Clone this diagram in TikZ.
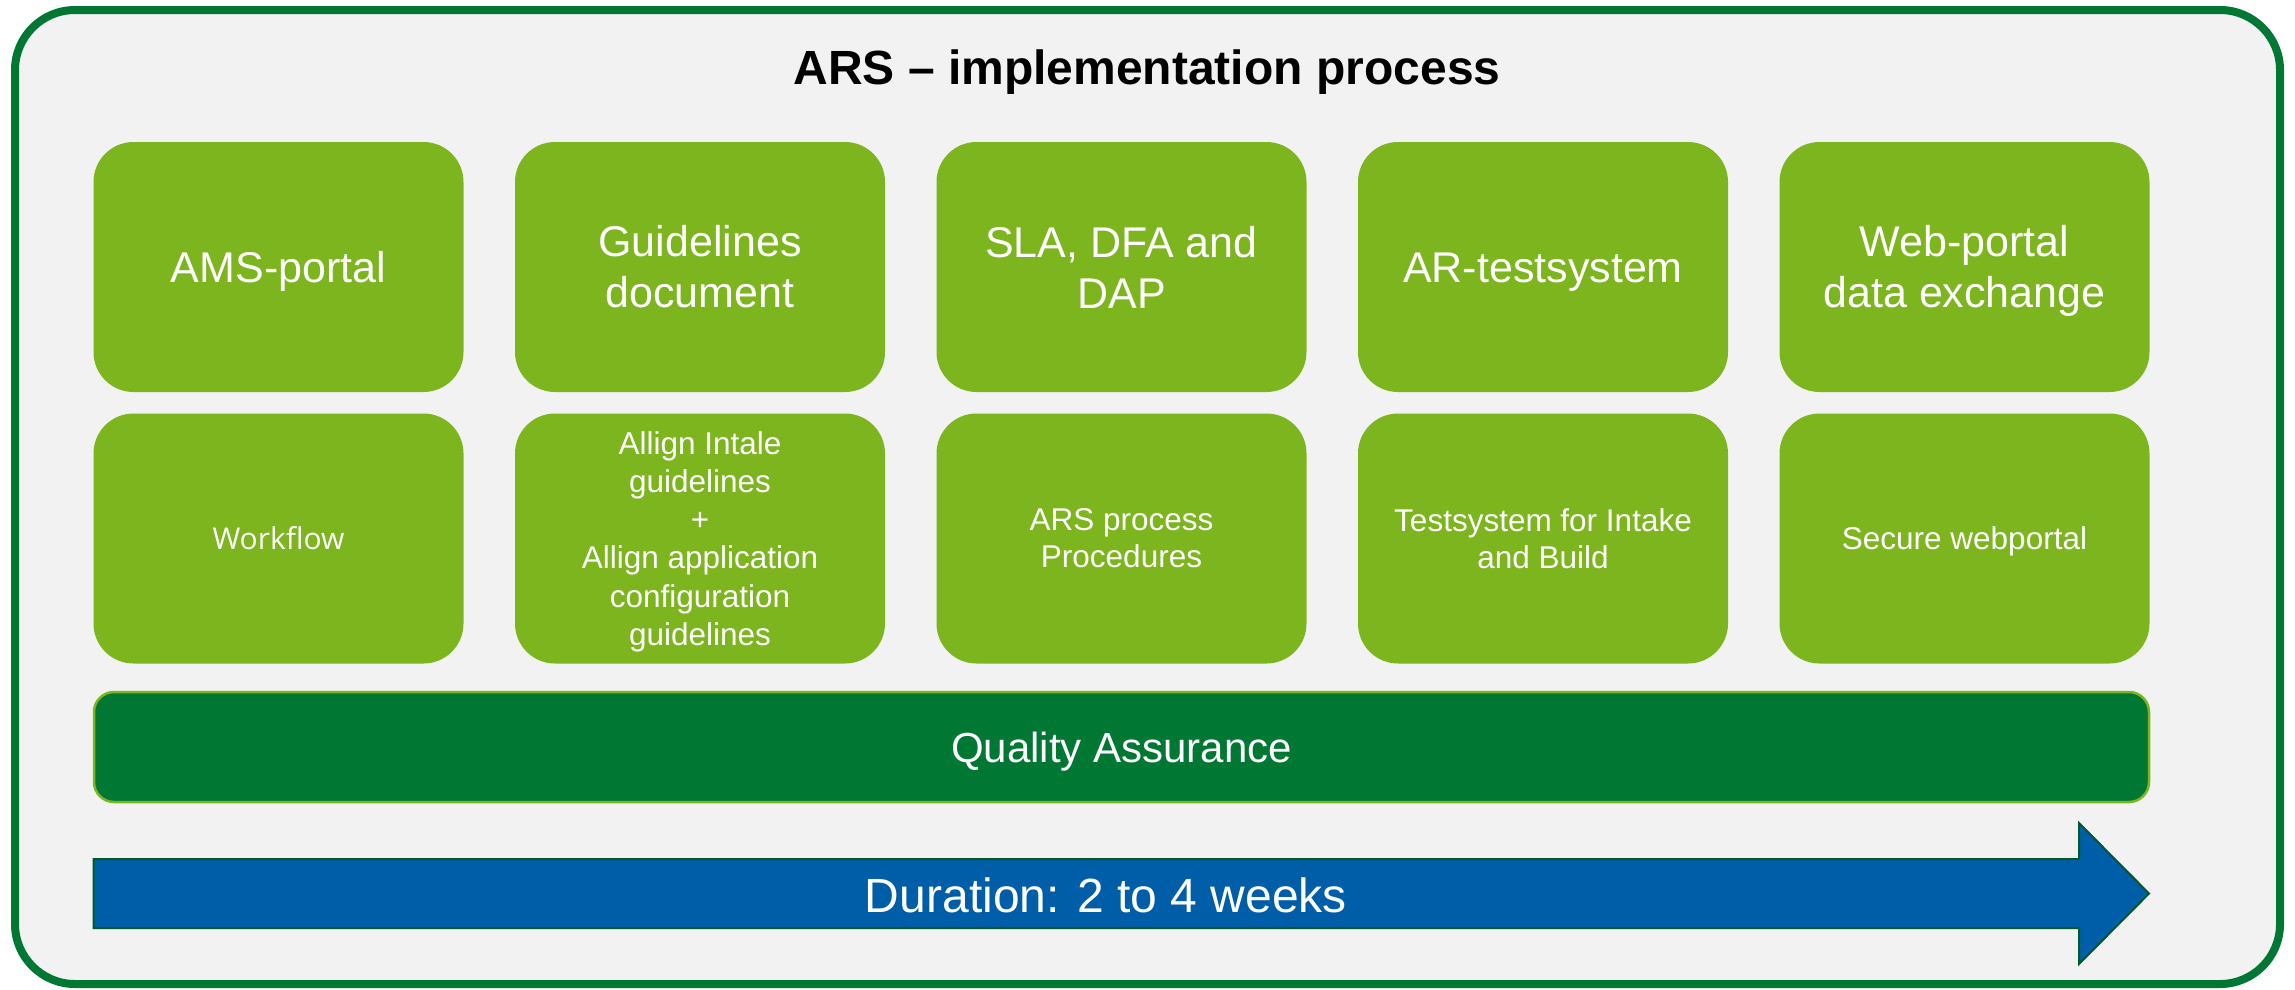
\documentclass[tikz,border=0pt]{standalone}
\usepackage{fontspec}
\setmainfont{Liberation Sans}
\newfontfamily\segoe{Open Sans}
\definecolor{bggray}{RGB}{242,242,242}
\definecolor{framegreen}{RGB}{0,120,52}
\definecolor{tilegreen}{RGB}{124,181,30}
\definecolor{qagreen}{RGB}{0,120,52}
\definecolor{arrowblue}{RGB}{0,94,168}
\definecolor{arrowedge}{RGB}{0,90,40}
\tikzset{
  frame/.style={draw=framegreen, fill=bggray, line width=8pt, rounded corners=60pt},
  tile/.style={fill=tilegreen, rounded corners=40pt, minimum width=370pt, minimum height=250pt,
    inner sep=0pt, align=center, text=white},
  toptile/.style={tile, font=\fontsize{43}{51}\selectfont},
  subtile/.style={tile, font=\fontsize{31.5}{37}\selectfont},
  oneline/.style={text height=#1, text depth=0pt},
  qabar/.style={fill=qagreen, draw=tilegreen, line width=2.5pt, rounded corners=20pt,
    minimum width=2055pt, minimum height=110pt, inner sep=0pt, text=white,
    font=\fontsize{42}{50}\selectfont},
  durarrow/.style={fill=arrowblue, draw=arrowedge, line width=2pt},
  durtext/.style={text=white, font=\fontsize{48}{56}\selectfont, inner sep=0pt},
  titletext/.style={font=\bfseries\fontsize{48}{56}\selectfont, inner sep=0pt}
}
\begin{document}
\begin{tikzpicture}[x=1pt,y=-1pt]
\useasboundingbox (0,0) rectangle (2295,989);
\draw[frame] (15,10) rectangle (2280,984);
\node[titletext, oneline=34.4pt] (title) at (1147,67) {ARS – implementation process};
% top row
\node[toptile, oneline=30.8pt] (t1) at (278.5,267) {AMS-portal};
\node[toptile] (t2) at (700,267) {Guidelines\\document};
\node[toptile] (t3) at (1121.5,267) {SLA, DFA and\\DAP};
\node[toptile, oneline=30.8pt] (t4) at (1543,267) {AR-testsystem};
\node[toptile] (t5) at (1964.5,267) {\rule{0pt}{39.8pt}Web-portal\\data exchange};
% second row
\node[subtile, font=\segoe\fontsize{30}{37}\selectfont, oneline=21.4pt] (s1) at (278.5,538.5) {Workflow};
\node[subtile, font=\fontsize{31.5}{38.3}\selectfont] (s2) at (700,538.5) {\rule{0pt}{29.2pt}Allign Intale\\guidelines\\+\\Allign application\\configuration\\guidelines};
\node[subtile] (s3) at (1121.5,538.5) {ARS process\\Procedures};
\node[subtile] (s4) at (1543,538.5) {Testsystem for Intake\\and Build};
\node[subtile, oneline=22.6pt] (s5) at (1964.5,538.5) {Secure webportal};
% quality assurance
\node[qabar, oneline=30.1pt] (qa) at (1121.5,747) {Quality Assurance};
% duration arrow
\coordinate (a1) at (93.5,859);
\coordinate (a2) at (2079,859);
\coordinate (a3) at (2079,823);
\coordinate (a4) at (2149,893.5);
\coordinate (a5) at (2079,964);
\coordinate (a6) at (2079,928);
\coordinate (a7) at (93.5,928);
\draw[durarrow] (a1) -- (a2) -- (a3) -- (a4) -- (a5) -- (a6) -- (a7) -- cycle;
\node[durtext, oneline=34.4pt] (dur) at (1106,895.5) {Duration: 2 to 4 weeks};
\end{tikzpicture}
\end{document}
